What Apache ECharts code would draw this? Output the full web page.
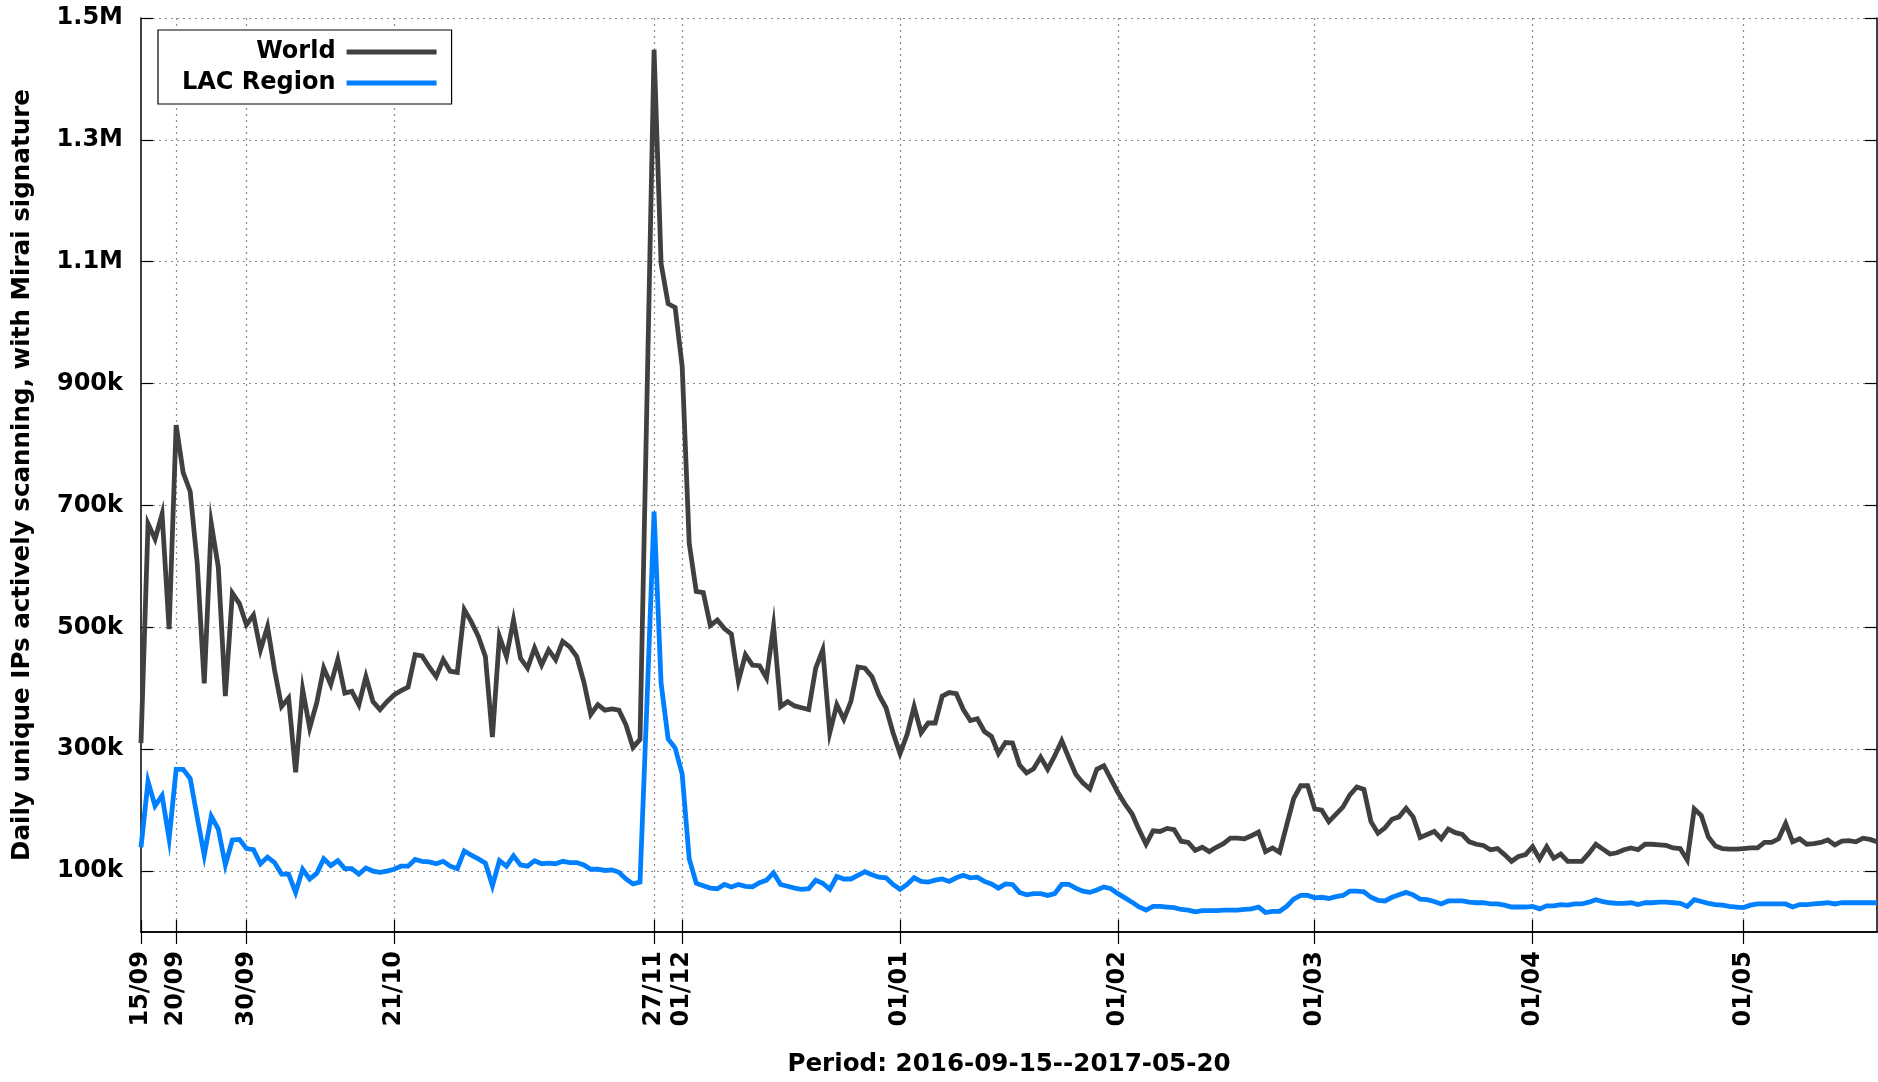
<!DOCTYPE html>
<html>
<head>
<meta charset="utf-8">
<script src="https://cdn.jsdelivr.net/npm/echarts@6/dist/echarts.min.js"></script>
<style>
html,body{margin:0;padding:0;background:#ffffff;}
#chart{width:1878px;height:1082px;}
</style>
</head>
<body>
<div id="chart"></div>
<script>
// ---- data (values in thousands of IPs), one point per day from 2016-09-15 to 2017-05-20 ----
const startDate = '2016-09-15';
const dayCount = 248;

const tickDates = ['15/09','20/09','30/09','21/10','27/11','01/12','01/01','01/02','01/03','01/04','01/05'];

const worldK = [
  310,670,645,686,497,832,754,723,605,408,
  670,599,387,556,539,504,520,463,501,430,
  370,384,262,398,335,376,433,406,447,392,
  395,373,419,378,365,378,389,396,402,455,
  453,435,419,447,428,426,529,509,485,452,
  320,485,452,512,449,433,466,438,463,447,
  477,468,452,411,357,373,364,366,364,340,
  303,316,880,1448,1097,1031,1025,928,638,559,
  557,503,512,498,489,412,455,438,437,417,
  502,370,378,371,368,365,433,463,327,373,
  349,378,435,433,419,389,368,327,293,324,
  370,327,343,343,387,393,391,365,347,350,
  329,321,293,311,310,274,261,268,287,267,
  289,314,286,259,245,235,267,273,251,229,
  210,194,168,144,166,165,170,168,149,147,
  134,139,132,139,145,154,154,153,158,164,
  132,138,131,175,219,240,240,202,200,181,
  193,205,225,238,234,181,162,171,185,189,
  203,189,155,160,165,153,169,163,160,148,
  144,142,135,137,127,116,124,127,140,120,
  140,121,128,116,116,116,129,144,136,128,
  130,135,138,135,144,144,143,142,138,137,
  118,202,191,156,141,137,136,136,137,138,
  138,147,147,153,178,148,153,144,145,147,
  151,143,149,150,148,154,152,148
];

const lacK = [
  139,247,207,224,153,267,267,252,188,126,
  190,169,110,151,152,137,135,112,123,114,
  95,95,65,103,87,96,120,109,117,104,
  104,95,105,100,98,100,103,108,108,119,
  116,115,112,116,108,104,133,126,120,113,
  76,117,108,125,110,108,117,112,113,112,
  116,114,114,110,103,103,101,102,98,87,
  79,82,380,690,408,317,302,259,120,80,
  76,72,71,78,74,78,75,74,81,85,
  97,78,75,72,70,71,85,80,70,91,
  87,87,93,99,94,90,89,78,70,78,
  89,83,82,85,87,83,89,93,89,90,
  83,79,72,79,78,65,61,63,63,60,
  63,78,78,72,67,65,69,74,71,63,
  56,49,41,36,42,42,41,40,37,36,
  33,35,35,35,36,36,36,37,38,41,
  32,34,34,42,54,60,60,56,57,55,
  58,60,67,67,66,57,52,51,57,61,
  65,61,54,53,50,46,51,51,51,49,
  48,48,46,46,44,41,41,41,42,38,
  43,43,45,44,46,46,49,53,50,48,
  47,47,48,45,48,48,49,49,48,47,
  42,53,50,47,45,44,42,41,40,44,
  46,46,46,46,46,41,45,45,46,47,
  48,46,48,48,48,48,48,48
];

const yTickValues = [100000,300000,500000,700000,900000,1100000,1300000,1500000];
const yTickLabels = ['100k','300k','500k','700k','900k','1.1M','1.3M','1.5M'];

// ---- build categories (DD/MM) ----
const categories = [];
{
  const d0 = new Date(startDate + 'T00:00:00Z');
  for (let i = 0; i < dayCount; i++) {
    const d = new Date(d0.getTime() + i * 86400000);
    const dd = String(d.getUTCDate()).padStart(2, '0');
    const mm = String(d.getUTCMonth() + 1).padStart(2, '0');
    categories.push(dd + '/' + mm);
  }
}
const worldData = worldK.map(v => v * 1000);
const lacData = lacK.map(v => v * 1000);
const isTick = (idx) => tickDates.indexOf(categories[idx]) >= 0;

const FONT = 'DejaVu Sans';
const gridLine = { show: true, lineStyle: { color: '#8a8a8a', width: 1.2, type: [2, 4] } };
const frame = { show: true, lineStyle: { color: '#000', width: 1.5 } };

const chart = echarts.init(document.getElementById('chart'), null, { renderer: 'canvas' });
chart.setOption({
  animation: false,
  backgroundColor: '#ffffff',
  grid: { left: 141, right: 1, top: 18, bottom: 145, containLabel: false },
  legend: {
    left: 158, top: 30,
    orient: 'vertical',
    align: 'right',
    selectedMode: false,
    padding: [10, 15, 9, 24],
    itemGap: 7,
    itemWidth: 90,
    itemHeight: 5,
    borderColor: '#000',
    borderWidth: 1.2,
    backgroundColor: '#fff',
    textStyle: { fontFamily: FONT, fontWeight: 'bold', fontSize: 24, color: '#000', padding: [0, 6, 0, 0] },
    data: [
      { name: 'World', icon: 'rect' },
      { name: 'LAC Region', icon: 'rect' }
    ]
  },
  xAxis: [
    {
      type: 'category',
      data: categories,
      boundaryGap: false,
      position: 'bottom',
      name: 'Period: 2016-09-15--2017-05-20',
      nameLocation: 'middle',
      nameGap: 120,
      nameTextStyle: { fontFamily: FONT, fontWeight: 'bold', fontSize: 24.6, color: '#000' },
      axisLine: frame,
      axisTick: { show: true, inside: true, length: 12, interval: (i) => isTick(i), lineStyle: { color: '#000', width: 1.2 } },
      axisLabel: {
        show: true, rotate: 90, margin: 19, interval: (i) => isTick(i),
        fontFamily: FONT, fontWeight: 'bold', fontSize: 24, color: '#000'
      },
      splitLine: Object.assign({ interval: (i) => isTick(i) && i > 0 }, gridLine)
    },
    {
      type: 'category',
      data: categories,
      boundaryGap: false,
      position: 'top',
      axisLine: frame,
      axisTick: { show: true, inside: true, length: 12, interval: (i) => isTick(i), lineStyle: { color: '#000', width: 1.2 } },
      axisLabel: { show: false },
      splitLine: { show: false }
    }
  ],
  yAxis: [
    {
      type: 'value',
      min: 0, max: 1500000,
      position: 'left',
      name: 'Daily unique IPs actively scanning, with Mirai signature',
      nameLocation: 'middle',
      nameGap: 106,
      nameTextStyle: { fontFamily: FONT, fontWeight: 'bold', fontSize: 24.6, color: '#000' },
      axisLine: frame,
      axisTick: { show: true, inside: true, length: 12, customValues: yTickValues, lineStyle: { color: '#000', width: 1.2 } },
      axisLabel: {
        show: true, margin: 18, customValues: yTickValues,
        formatter: (v) => { const k = yTickValues.indexOf(v); return k >= 0 ? yTickLabels[k] : ''; },
        fontFamily: FONT, fontWeight: 'bold', fontSize: 24, color: '#000'
      },
      splitLine: gridLine
    },
    {
      type: 'value',
      min: 0, max: 1500000,
      position: 'right',
      axisLine: frame,
      axisTick: { show: true, inside: true, length: 12, customValues: yTickValues, lineStyle: { color: '#000', width: 1.2 } },
      axisLabel: { show: false },
      splitLine: { show: false }
    }
  ],
  series: [
    {
      name: 'World', type: 'line', xAxisIndex: 0, yAxisIndex: 0,
      data: worldData, symbol: 'none', showSymbol: false,
      itemStyle: { color: '#404040' },
      lineStyle: { color: '#404040', width: 4.8, join: 'miter' },
      z: 3
    },
    {
      name: 'LAC Region', type: 'line', xAxisIndex: 0, yAxisIndex: 0,
      data: lacData, symbol: 'none', showSymbol: false,
      itemStyle: { color: '#0080ff' },
      lineStyle: { color: '#0080ff', width: 4.8, join: 'miter' },
      z: 4
    }
  ]
});
</script>
</body>
</html>
